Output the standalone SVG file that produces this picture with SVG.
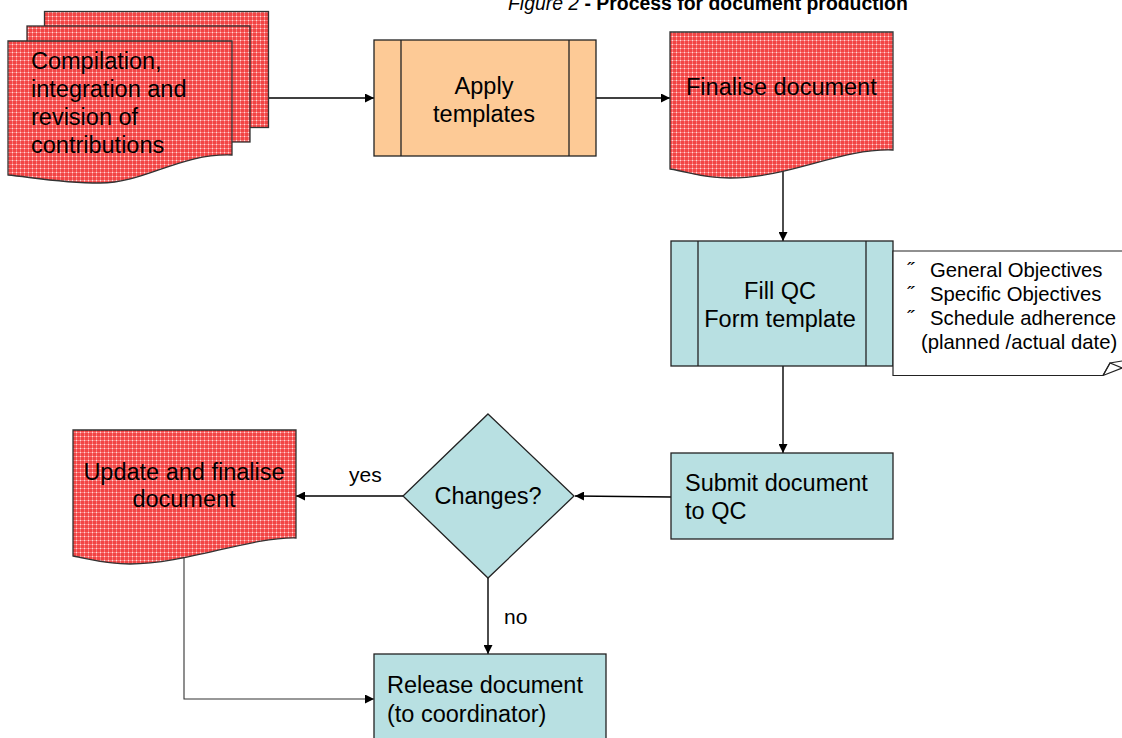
<svg xmlns="http://www.w3.org/2000/svg" width="1122" height="738" viewBox="0 0 1122 738">
  <defs>
    <!-- checkered red fill used for the document shapes -->
    <pattern id="redGrid" width="4" height="4" patternUnits="userSpaceOnUse">
      <rect width="4" height="4" fill="#f24444"/>
      <rect x="0" y="0" width="4" height="1" fill="#f87a7a"/>
      <rect x="0" y="0" width="1" height="4" fill="#f87a7a"/>
      <rect x="0" y="0" width="1" height="1" fill="#ffd8d8"/>
    </pattern>
    <marker id="arrow" viewBox="0 0 10 10" refX="10" refY="5" markerWidth="10" markerHeight="9" markerUnits="userSpaceOnUse" orient="auto">
      <path d="M0,0 L10,5 L0,10 z" fill="#000"/>
    </marker>
  </defs>
  <style>
    .doc { fill: url(#redGrid); stroke: #333; stroke-width: 1.3; }
    .proc { fill: #b8e0e2; stroke: #222; stroke-width: 1.3; }
    .orange { fill: #fdca96; stroke: #222; stroke-width: 1.3; }
    .bar { fill: none; stroke: #222; stroke-width: 1.3; }
    .t { font-family: "Liberation Sans", Arial, sans-serif; font-size: 23.5px; fill: #000; }
    .note { font-family: "Liberation Sans", Arial, sans-serif; font-size: 20.3px; fill: #000; }
    .lbl { font-family: "Liberation Sans", Arial, sans-serif; font-size: 21px; fill: #000; }
    .conn { fill: none; stroke: #000; stroke-width: 1.4; }
    .conn-thin { fill: none; stroke: #333; stroke-width: 1.1; }
  </style>

  <!-- title -->
  <text x="508" y="10" font-family="Liberation Sans, Arial, sans-serif" font-size="19.4"><tspan font-style="italic">Figure 2</tspan><tspan font-weight="bold"> - Process for document production</tspan></text>

  <!-- connectors -->
  <g id="connectors">
    <line class="conn" x1="269" y1="98" x2="374" y2="98" marker-end="url(#arrow)"/>
    <line class="conn" x1="596" y1="98" x2="670" y2="98" marker-end="url(#arrow)"/>
    <line class="conn" x1="783" y1="162" x2="783" y2="241" marker-end="url(#arrow)"/>
    <line class="conn" x1="783" y1="366" x2="783" y2="453" marker-end="url(#arrow)"/>
    <line class="conn" x1="671" y1="497" x2="575" y2="496" marker-end="url(#arrow)"/>
    <line class="conn" x1="403" y1="496" x2="296" y2="496" marker-end="url(#arrow)"/>
    <line class="conn" x1="488" y1="578" x2="488" y2="654" marker-end="url(#arrow)"/>
    <polyline class="conn-thin" points="184,555 184,699 374,699" marker-end="url(#arrow)"/>
    <text class="lbl" x="349" y="482">yes</text>
    <text class="lbl" x="504" y="624">no</text>
  </g>

  <!-- multi-document: compilation -->
  <g id="compilation">
    <rect class="doc" x="44.5" y="11.5" width="224" height="116"/>
    <rect class="doc" x="27" y="26" width="223" height="116"/>
    <path class="doc" d="M8,41 H232 V155 C180,153 145,183 100,183 C60,183 30,177 8,175 Z"/>
    <text class="t" x="31" y="69">Compilation,</text>
    <text class="t" x="31" y="97">integration and</text>
    <text class="t" x="31" y="125">revision of</text>
    <text class="t" x="31" y="153">contributions</text>
  </g>

  <!-- predefined process: apply templates -->
  <g id="apply-templates">
    <rect class="orange" x="374" y="40" width="222" height="116"/>
    <line class="bar" x1="401" y1="40" x2="401" y2="156"/>
    <line class="bar" x1="569" y1="40" x2="569" y2="156"/>
    <text class="t" x="484" y="94" text-anchor="middle">Apply</text>
    <text class="t" x="484" y="122" text-anchor="middle">templates</text>
  </g>

  <!-- document: finalise -->
  <g id="finalise-document">
    <path class="doc" d="M670,32 H893 V150 C840,148 790,178 730,178 C700,178 690,172 670,169 Z"/>
    <text class="t" x="686" y="95">Finalise document</text>
  </g>

  <!-- predefined process: fill QC form -->
  <g id="fill-qc">
    <rect class="proc" x="671" y="241" width="222" height="125"/>
    <line class="bar" x1="698" y1="241" x2="698" y2="366"/>
    <line class="bar" x1="866" y1="241" x2="866" y2="366"/>
    <text class="t" x="780" y="299" text-anchor="middle">Fill QC</text>
    <text class="t" x="780" y="327" text-anchor="middle">Form template</text>
  </g>

  <!-- annotation note -->
  <g id="qc-note">
    <path d="M893,251 H1124 V368 L1122,368 L1110,363 L1103,375.5 H893 Z" fill="#fff" stroke="#222" stroke-width="1.2"/>
    <path d="M1103,375.5 L1110,363 L1122,361 M1103,375.5 L1122,368" fill="none" stroke="#222" stroke-width="1.2"/>
    <text class="note" x="907" y="277">˝</text>
    <text class="note" x="930" y="277">General Objectives</text>
    <text class="note" x="907" y="301">˝</text>
    <text class="note" x="930" y="301">Specific Objectives</text>
    <text class="note" x="907" y="325">˝</text>
    <text class="note" x="930" y="325">Schedule adherence</text>
    <text class="note" x="921" y="349">(planned /actual date)</text>
  </g>

  <!-- process: submit to QC -->
  <g id="submit-qc">
    <rect class="proc" x="671" y="453" width="222" height="86"/>
    <text class="t" x="685" y="491">Submit document</text>
    <text class="t" x="685" y="519">to QC</text>
  </g>

  <!-- decision -->
  <g id="changes">
    <polygon class="proc" points="488,414 574,496 488,578 403,496"/>
    <text class="t" x="488" y="504" text-anchor="middle">Changes?</text>
  </g>

  <!-- document: update and finalise -->
  <g id="update-document">
    <path class="doc" d="M73,430 H296 V538 C250,537 185,564 130,564 C105,564 90,559 73,556 Z"/>
    <text class="t" x="184" y="480" text-anchor="middle">Update and finalise</text>
    <text class="t" x="184" y="507" text-anchor="middle">document</text>
  </g>

  <!-- process: release -->
  <g id="release">
    <rect class="proc" x="374" y="654" width="232" height="92"/>
    <text class="t" x="387" y="693">Release document</text>
    <text class="t" x="387" y="722">(to coordinator)</text>
  </g>
</svg>
